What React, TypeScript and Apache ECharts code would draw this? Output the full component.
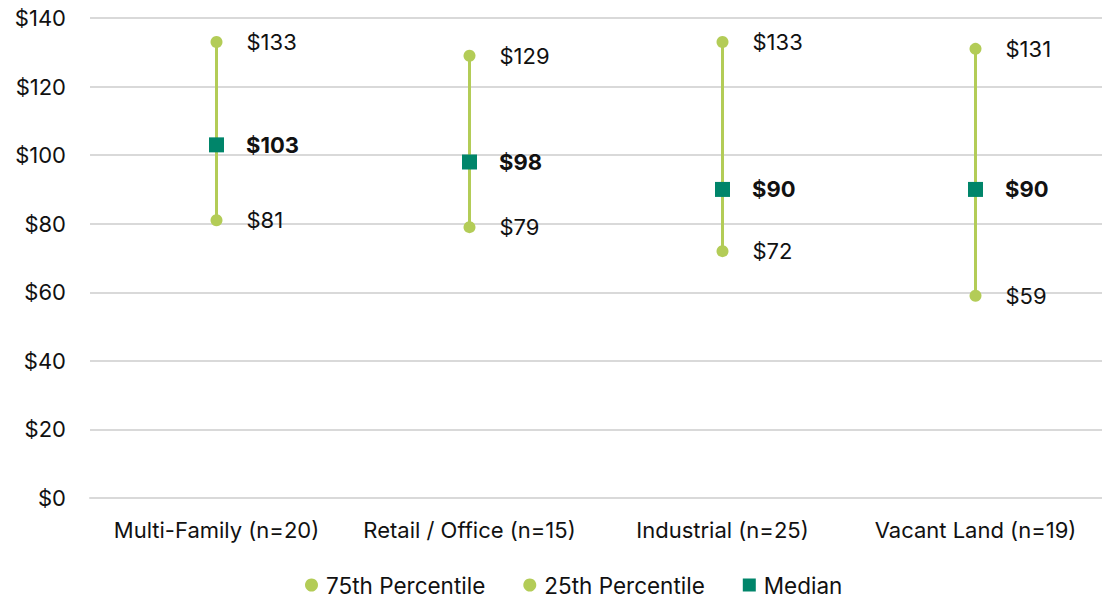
import React, { useEffect, useRef } from "react";
import * as echarts from "echarts";

const categories = [
  "Multi-Family (n=20)",
  "Retail / Office (n=15)",
  "Industrial (n=25)",
  "Vacant Land (n=19)",
];
const p75 = [133, 129, 133, 131];
const p25 = [81, 79, 72, 59];
const median = [103, 98, 90, 90];
const yTicks = { min: 0, max: 140, interval: 20 };

const LIGHT = "#b3cc57";
const DARK = "#00856a";
const FONT = "Inter, 'Liberation Sans', Arial, sans-serif";
const TXT = "#111111";
const FS = 22;

export default function App() {
  const ref = useRef<HTMLDivElement>(null);
  useEffect(() => {
    if (!ref.current) return;
    const chart = echarts.init(ref.current, undefined, { renderer: "svg" });
    const rangeData = categories.map((_, i) => [i, p25[i], p75[i]]);
    const valueLabel = {
      show: true,
      position: "right",
      distance: 24,
      fontSize: FS,
      color: TXT,
      fontFamily: FONT,
      formatter: (p: any) => "$" + p.value,
    };
    chart.setOption({
      animation: false,
      textStyle: { fontFamily: FONT },
      grid: { left: 90, top: 18, width: 1018, height: 480 },
      legend: {
        top: 568,
        left: 300,
        itemGap: 38,
        itemWidth: 13,
        itemHeight: 13,
        textStyle: {
          fontSize: 22.5,
          color: TXT,
          fontFamily: FONT,
          lineHeight: 24,
          padding: [0, 0, 0, 3],
        },
        data: [
          { name: "75th Percentile", icon: "circle" },
          { name: "25th Percentile", icon: "circle" },
          { name: "Median", icon: "rect" },
        ],
      },
      xAxis: {
        type: "category",
        data: categories,
        boundaryGap: true,
        axisTick: { show: false },
        axisLine: { lineStyle: { color: "#d9d9d9", width: 2 } },
        axisLabel: {
          fontSize: FS,
          color: TXT,
          margin: 21,
          fontFamily: FONT,
          interval: 0,
        },
      },
      yAxis: {
        type: "value",
        min: yTicks.min,
        max: yTicks.max,
        interval: yTicks.interval,
        axisLine: { show: false },
        axisTick: { show: false },
        splitLine: { lineStyle: { color: "#d9d9d9", width: 2 } },
        axisLabel: {
          fontSize: FS,
          color: TXT,
          margin: 24,
          fontFamily: FONT,
          formatter: (v: number) => "$" + v,
        },
      },
      series: [
        {
          type: "custom",
          name: "range",
          data: rangeData,
          encode: { x: 0, y: [1, 2] },
          z: 1,
          renderItem: (params: any, api: any) => {
            const a = api.coord([api.value(0), api.value(1)]);
            const b = api.coord([api.value(0), api.value(2)]);
            return {
              type: "line",
              shape: { x1: a[0], y1: a[1], x2: b[0], y2: b[1] },
              style: { stroke: LIGHT, lineWidth: 3 },
            };
          },
        },
        {
          type: "scatter",
          name: "75th Percentile",
          data: p75,
          symbol: "circle",
          symbolSize: 12,
          itemStyle: { color: LIGHT, opacity: 1 },
          z: 2,
          label: valueLabel,
        },
        {
          type: "scatter",
          name: "25th Percentile",
          data: p25,
          symbol: "circle",
          symbolSize: 12,
          itemStyle: { color: LIGHT, opacity: 1 },
          z: 2,
          label: valueLabel,
        },
        {
          type: "scatter",
          name: "Median",
          data: median,
          symbol: "rect",
          symbolSize: 15,
          itemStyle: { color: DARK, opacity: 1 },
          z: 3,
          label: {
            ...valueLabel,
            distance: 22,
            fontWeight: "bold",
          },
        },
      ],
    });
    return () => chart.dispose();
  }, []);
  return (
    <div
      ref={ref}
      style={{ position: "absolute", left: 0, top: 0, width: 1102, height: 598 }}
    />
  );
}
